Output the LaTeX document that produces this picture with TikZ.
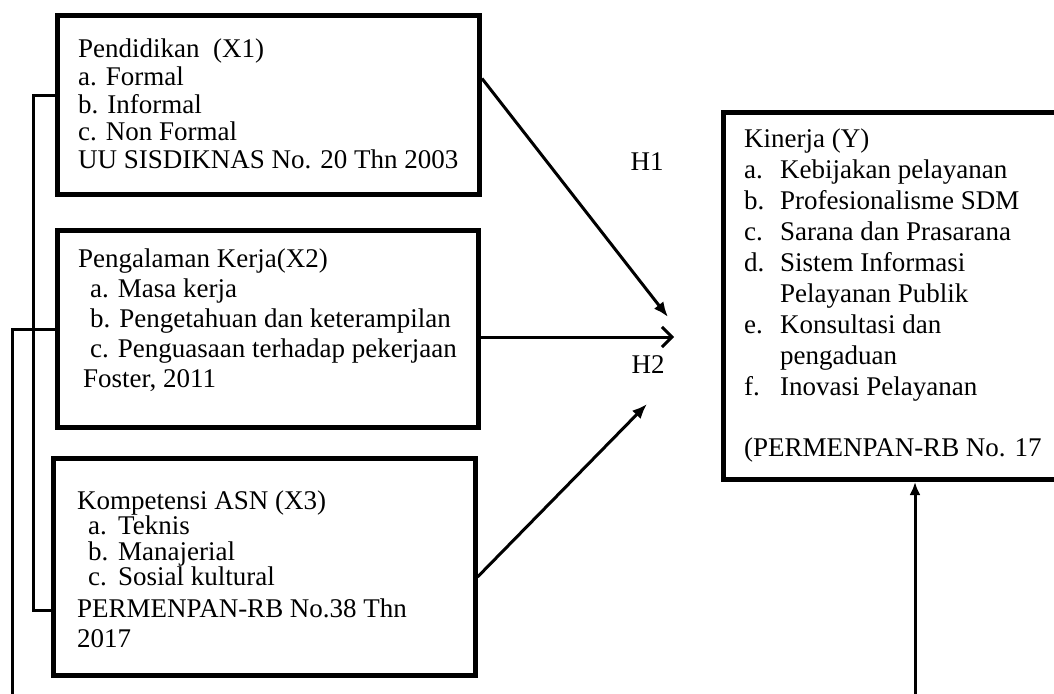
\documentclass[tikz,border=0pt]{standalone}
\usepackage{fontspec}
\setmainfont{Liberation Serif}
\usepackage{tikz}
\usetikzlibrary{arrows.meta}
\newcommand{\itemlab}[2]{\makebox[#1][l]{#2}}
\tikzset{
  varbox/.style={draw=black, line width=5pt, inner sep=0pt},
  conn/.style={draw=black, line width=3pt},
  fillarr/.style={conn, -{Latex[length=15pt,width=12pt]}},
  openarr/.style={conn, -{Straight Barb[length=10pt,width=20pt]}},
  txt/.style={anchor=base west, inner sep=0pt, font=\fontsize{27pt}{#1}\selectfont},
  hlab/.style={inner sep=0pt, font=\fontsize{27pt}{30pt}\selectfont}
}

\begin{document}
\begin{tikzpicture}[x=1pt, y=-1pt]
  \useasboundingbox (0,0) rectangle (1054,693);
  \clip (0,0) rectangle (1054,693);
  % variable boxes
  \node[varbox, minimum width=422pt, minimum height=179pt] (x1) at (268.5,105) {};
  \node[varbox, minimum width=421pt, minimum height=197.5pt] (x2) at (267.5,329) {};
  \node[varbox, minimum width=422pt, minimum height=217pt] (x3) at (264,566.5) {};
  \node[varbox, minimum width=357pt, minimum height=367pt] (y) at (901.5,296) {};
  \node[txt=27.5pt] (x1txt) at (78,58) {\parbox[t]{400pt}{Pendidikan\ \ (X1)\\a. Formal\\b. Informal\\c. Non Formal\\UU SISDIKNAS No. 20 Thn 2003}};
  \node[txt=30pt] (x2txt) at (78,267) {\parbox[t]{400pt}{Pengalaman Kerja(X2)\\\hspace*{12pt}a. Masa kerja\\\hspace*{12pt}b. Pengetahuan dan keterampilan\\\hspace*{12pt}c. Penguasaan terhadap pekerjaan\\\hspace*{5pt}Foster, 2011}};
  \node[txt=25.5pt] (x3txt) at (77,509) {\parbox[t]{400pt}{Kompetensi ASN (X3)\\\hspace*{11pt}\itemlab{30pt}{a.}Teknis\\\hspace*{11pt}\itemlab{30pt}{b.}Manajerial\\\hspace*{11pt}\itemlab{30pt}{c.}Sosial kultural\\[6.5pt]PERMENPAN-RB No.38 Thn\\[4.5pt]2017}};
  \node[txt=31pt] (ytxt) at (744,147) {\parbox[t]{320pt}{Kinerja (Y)\\\itemlab{36pt}{a.}Kebijakan pelayanan\\\itemlab{36pt}{b.}Profesionalisme SDM\\\itemlab{36pt}{c.}Sarana dan Prasarana\\\itemlab{36pt}{d.}Sistem Informasi\\\hspace*{36pt}Pelayanan Publik\\\itemlab{36pt}{e.}Konsultasi dan\\\hspace*{36pt}pengaduan\\\itemlab{36pt}{f.}Inovasi Pelayanan\\[30pt](PERMENPAN-RB No. 17}};
  % hypotheses
  \node[hlab] (h1lab) at (647,162) {H1};
  \node[hlab] (h2lab) at (648,365) {H2};
  \coordinate (h1tip) at (668,317);
  \coordinate (h2tip) at (674,337);
  \coordinate (h3tip) at (647,404);
  \draw[fillarr] ([yshift=26.5pt]x1.east) -- (h1tip);
  \draw[openarr] ([yshift=-8pt]x2.east) -- (h2tip);
  \draw[fillarr] ([yshift=-10.5pt]x3.east) -- (h3tip);
  % lines on the left
  \draw[conn] ([yshift=9.5pt]x1.west) -- ++(-22,0) |- ([yshift=-43.5pt]x3.west);
  \coordinate (lowleft) at (12,720);
  \draw[conn, -{Latex[length=13pt,width=11pt]}] (x2.west) -| (lowleft) -| ([xshift=13.5pt]y.south);
\end{tikzpicture}
\end{document}
